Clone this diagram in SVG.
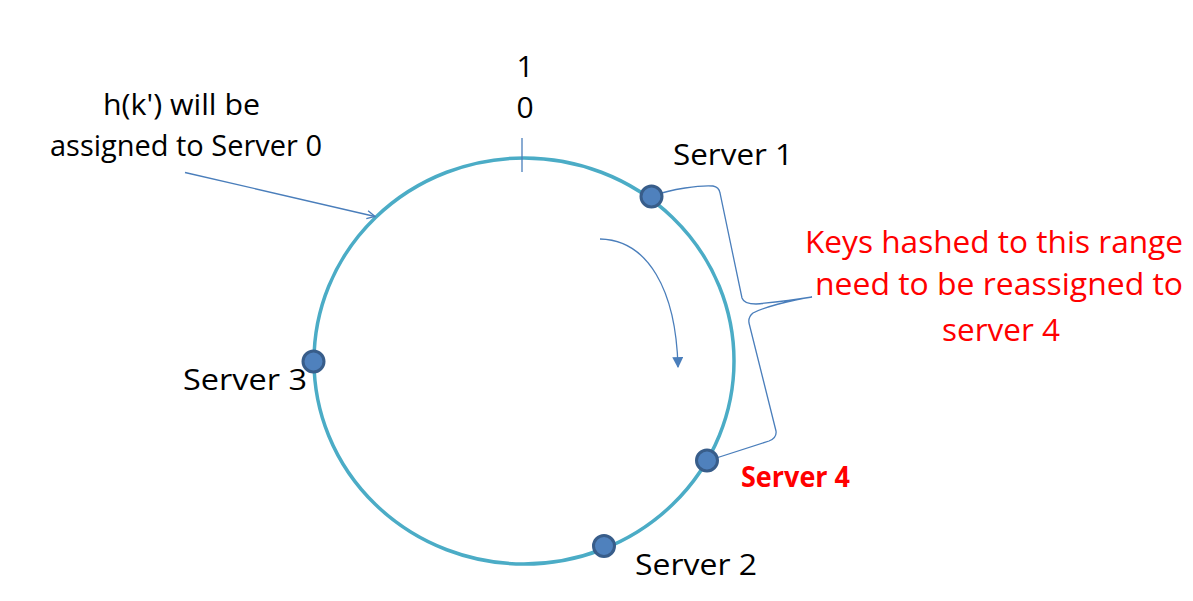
<svg xmlns="http://www.w3.org/2000/svg" width="1193" height="601" viewBox="0 0 1193 601">
<style>
.t{font-family:"Open Sans","Liberation Sans",sans-serif;font-size:30px;fill:#000}
.h{font-family:"Open Sans","Liberation Sans",sans-serif;font-size:29px;fill:#000}
.r{font-family:"Open Sans","Liberation Sans",sans-serif;font-size:31px;fill:#ff0000}
.b{font-family:"Open Sans","Liberation Sans",sans-serif;font-size:28px;font-weight:bold;fill:#ff0000}
.dot{fill:#4f81bd;stroke:#385d8a;stroke-width:3}
.ln{fill:none;stroke:#4a7ebb;stroke-width:1.3}
</style>
<defs>
<marker id="open" viewBox="0 0 10 10" refX="9" refY="5" markerWidth="10" markerHeight="10" markerUnits="userSpaceOnUse" orient="auto">
<path d="M1,1 L9,5 L1,9" fill="none" stroke="#4a7ebb" stroke-width="1.3"/>
</marker>
<marker id="tri" viewBox="0 0 10 10" refX="9" refY="5" markerWidth="11" markerHeight="11" markerUnits="userSpaceOnUse" orient="auto">
<path d="M0,0 L10,5 L0,10 Z" fill="#4a7ebb"/>
</marker>
</defs>
<rect width="1193" height="601" fill="#fff"/>
<g id="ring">
<ellipse cx="524" cy="361" rx="210" ry="203" fill="none" stroke="#4bacc6" stroke-width="3.5"/>
<line x1="522" y1="138" x2="522" y2="172" stroke="#4a7ebb" stroke-width="1.3"/>
<text class="t" x="525" y="77" text-anchor="middle">1</text>
<text class="t" x="525" y="118" text-anchor="middle">0</text>
</g>
<g id="connectors">
<line class="ln" x1="185" y1="172.5" x2="375" y2="216.5" marker-end="url(#open)"/>
<path class="ln" d="M600,239 C648,240 676,290 678,367" marker-end="url(#tri)"/>
<path class="ln" d="M652,196 C672,189 700,185 713,186 Q719,187 720,193 L742,298 Q744,304 756,304 C778,302 800,299 812,297 C790,300 762,308 753,313 Q748,317 749,323 L776,431 Q777,438 769,441 L707,461"/>
</g>
<g id="label0">
<text class="h" x="103" y="115" textLength="157" lengthAdjust="spacingAndGlyphs">h(k') will be</text>
<text class="h" x="50" y="156" textLength="272" lengthAdjust="spacingAndGlyphs">assigned to Server 0</text>
</g>
<g id="server1">
<circle class="dot" cx="651.5" cy="196.5" r="10.5"/>
<text class="t" x="673" y="165" textLength="120" lengthAdjust="spacingAndGlyphs">Server 1</text>
</g>
<g id="server4">
<circle class="dot" cx="707" cy="460.5" r="10.5"/>
<text class="b" x="741" y="487" textLength="109" lengthAdjust="spacingAndGlyphs">Server 4</text>
</g>
<g id="server2">
<circle class="dot" cx="604" cy="546" r="10.5"/>
<text class="t" x="635" y="575" textLength="122" lengthAdjust="spacingAndGlyphs">Server 2</text>
</g>
<g id="server3">
<text class="t" x="183" y="390" textLength="124" lengthAdjust="spacingAndGlyphs">Server 3</text>
<circle class="dot" cx="313.5" cy="361.5" r="10.5"/>
</g>
<g id="note">
<text class="r" x="805" y="253" textLength="378" lengthAdjust="spacingAndGlyphs">Keys hashed to this range</text>
<text class="r" x="815" y="295" textLength="368" lengthAdjust="spacingAndGlyphs">need to be reassigned to</text>
<text class="r" x="942" y="341" textLength="118" lengthAdjust="spacingAndGlyphs">server 4</text>
</g>
</svg>
